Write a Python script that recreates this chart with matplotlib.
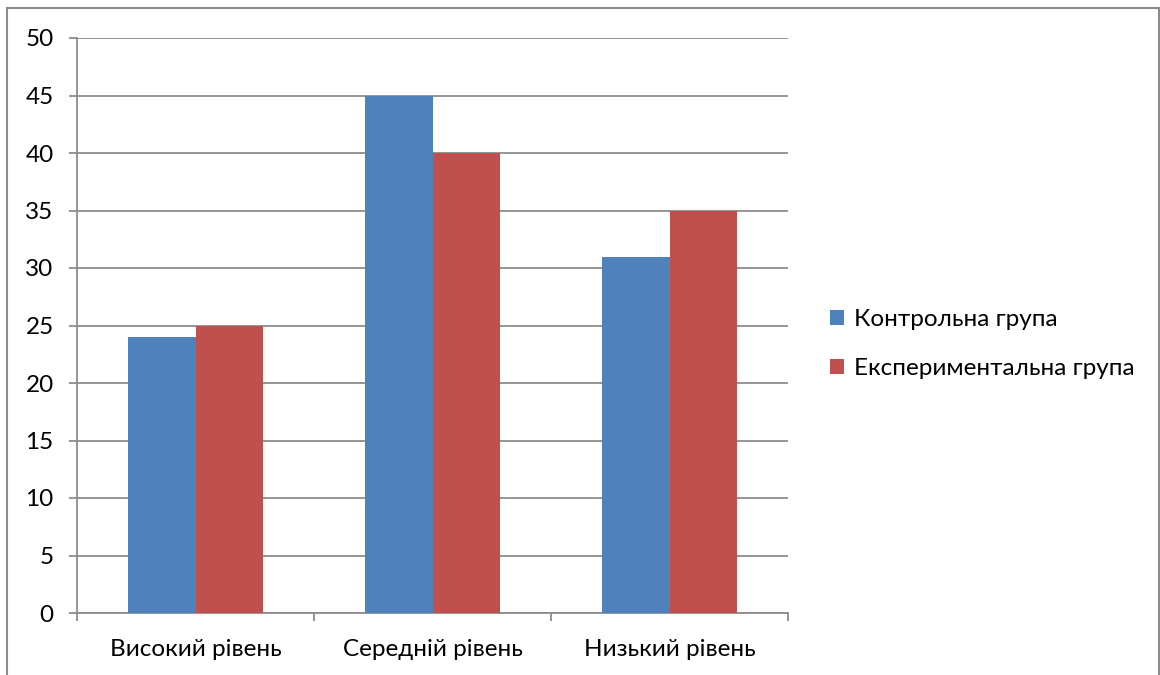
import numpy as np
import matplotlib.pyplot as plt
from matplotlib.patches import Rectangle, Patch

plt.rcParams['font.family'] = ['Lato', 'DejaVu Sans']

categories = ['Високий рівень', 'Середній рівень', 'Низький рівень']
control = [24, 45, 31]
experimental = [25, 40, 35]
series_names = ['Контрольна група', 'Експериментальна група']
colors = ['#4f81bd', '#c0504d']
grid_col = '#8c8c8c'

fig = plt.figure(figsize=(11.6, 6.75), dpi=100)
ax = fig.add_axes([77 / 1160, 1 - 613 / 675, (788 - 77) / 1160, (613 - 38) / 675])

x = np.arange(len(categories))
w = 1 / 3.5
ax.bar(x - w / 2, control, w, color=colors[0], zorder=3)
ax.bar(x + w / 2, experimental, w, color=colors[1], zorder=3)

ax.set_xlim(-0.5, 2.5)
ax.set_ylim(0, 50)
ax.set_yticks(np.arange(0, 51, 5))
ax.yaxis.grid(True, color=grid_col, linewidth=1.3, zorder=0)

# category labels sit between the boundary ticks
ax.set_xticks(x)
ax.set_xticklabels(categories, fontsize=17.5)
ax.tick_params(axis='x', length=0, pad=19)
ax.set_xticks(np.arange(-0.5, 3, 1), minor=True)
ax.tick_params(axis='x', which='minor', length=5.8, width=1.3, color=grid_col, direction='out')
ax.tick_params(axis='y', length=5.8, width=1.3, color=grid_col, labelsize=17.5, pad=11)

for s in ['top', 'right']:
    ax.spines[s].set_visible(False)
for s in ['left', 'bottom']:
    ax.spines[s].set_color(grid_col)
    ax.spines[s].set_linewidth(1.3)

handles = [Patch(facecolor=c) for c in colors]
fig.legend(handles, series_names, loc='center left', bbox_to_anchor=(808 / 1160, 1 - 344 / 675),
           frameon=False, fontsize=17.5, handlelength=0.6, handleheight=0.6,
           handletextpad=0.4, labelspacing=1.15)

# outer chart border
fig.patches.append(Rectangle((7 / 1160, -0.1), 1152 / 1160, 1.1 - 8 / 675,
                             transform=fig.transFigure, fill=False,
                             edgecolor='#8c8c8c', linewidth=1.5))

fig.savefig('out.png', dpi=100)
